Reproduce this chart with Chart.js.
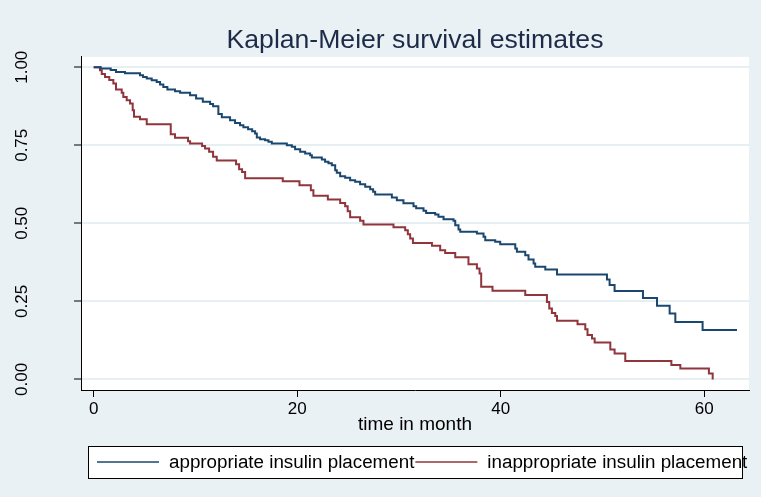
<!DOCTYPE html>
<html><head><meta charset="utf-8">
<script src="https://cdn.jsdelivr.net/npm/chart.js@4/dist/chart.umd.min.js"></script>
<style>html,body{margin:0;padding:0;background:#eaf1f4}</style>
</head><body>
<canvas id="c" width="761" height="497"></canvas>
<script>
const titleText = 'Kaplan-Meier survival estimates';
const xAxisTitle = 'time in month';
const seriesNames = ['appropriate insulin placement', 'inappropriate insulin placement'];
const xTicks = [0, 20, 40, 60];
const yTicks = [0, 0.25, 0.5, 0.75, 1];

const blueTime = [0, 0.69, 1.67, 2.19, 3.08, 4.55, 4.85, 5.21, 5.70, 6.19, 6.52, 6.84, 7.24, 7.99, 8.49, 9.47, 10.06, 10.72, 11.44, 11.73, 12.25, 12.59, 13.40, 13.89, 14.38, 14.71, 15.17, 15.57, 15.86, 16.03, 16.35, 16.84, 17.17, 17.50, 18.98, 19.47, 19.79, 20.29, 20.78, 21.27, 21.44, 22.42, 22.74, 23.07, 23.40, 23.73, 23.89, 24.22, 24.71, 25.20, 25.69, 26.18, 26.68, 27.17, 27.46, 27.66, 29.30, 29.79, 30.44, 31.43, 31.69, 32.41, 32.67, 33.56, 33.88, 34.38, 35.36, 35.53, 35.85, 36.02, 37.66, 38.31, 38.48, 39.46, 39.95, 41.43, 41.59, 42.41, 42.73, 43.23, 43.39, 44.38, 45.53, 50.44, 50.70, 51.19, 53.98, 55.36, 56.60, 57.16, 59.84, 63.22];
const blueSurv = [1, 0.996, 0.991, 0.985, 0.981, 0.974, 0.969, 0.964, 0.958, 0.953, 0.945, 0.937, 0.929, 0.923, 0.918, 0.910, 0.900, 0.889, 0.882, 0.875, 0.850, 0.840, 0.830, 0.821, 0.814, 0.808, 0.801, 0.795, 0.788, 0.775, 0.769, 0.766, 0.761, 0.756, 0.750, 0.745, 0.737, 0.729, 0.724, 0.718, 0.711, 0.704, 0.697, 0.692, 0.686, 0.670, 0.662, 0.651, 0.646, 0.638, 0.633, 0.625, 0.617, 0.609, 0.601, 0.592, 0.583, 0.574, 0.564, 0.555, 0.548, 0.540, 0.533, 0.528, 0.521, 0.513, 0.508, 0.494, 0.480, 0.473, 0.467, 0.457, 0.446, 0.441, 0.433, 0.419, 0.409, 0.398, 0.384, 0.371, 0.361, 0.352, 0.336, 0.320, 0.302, 0.283, 0.261, 0.236, 0.211, 0.184, 0.158, 0.158];

const redTime = [0, 0.62, 0.79, 1.11, 1.53, 1.93, 2.19, 2.75, 2.91, 3.24, 3.57, 3.83, 3.96, 4.55, 5.21, 7.57, 7.99, 9.27, 9.47, 10.65, 10.94, 11.34, 11.73, 12.09, 13.99, 14.29, 14.58, 14.88, 18.58, 20.22, 21.34, 21.59, 23.01, 24.22, 24.71, 24.96, 25.20, 26.18, 26.51, 29.46, 30.61, 30.87, 31.10, 31.37, 33.24, 34.05, 34.54, 35.53, 36.83, 37.66, 37.92, 38.08, 39.19, 42.41, 44.54, 44.77, 45.03, 45.36, 45.53, 47.55, 48.31, 48.53, 48.97, 49.23, 50.77, 51.19, 52.24, 56.77, 57.65, 60.46, 60.83];
const redSurv = [1, 0.990, 0.978, 0.969, 0.959, 0.948, 0.929, 0.918, 0.905, 0.894, 0.884, 0.862, 0.841, 0.833, 0.817, 0.785, 0.774, 0.763, 0.756, 0.748, 0.740, 0.729, 0.713, 0.701, 0.689, 0.673, 0.664, 0.644, 0.635, 0.622, 0.606, 0.588, 0.576, 0.565, 0.555, 0.539, 0.519, 0.508, 0.496, 0.487, 0.478, 0.465, 0.451, 0.437, 0.428, 0.414, 0.405, 0.391, 0.369, 0.355, 0.339, 0.297, 0.284, 0.270, 0.248, 0.227, 0.213, 0.203, 0.188, 0.177, 0.161, 0.142, 0.131, 0.118, 0.096, 0.083, 0.059, 0.046, 0.035, 0.019, 0];

const FONT = "'Liberation Sans', Arial, sans-serif";
const BG = '#eaf1f4';
const BLUE = '#1a476f';
const RED = '#90353b';

const toPts = (t, s) => t.map((v, i) => ({x: v, y: s[i]}));

const bgPlugin = {
  id: 'bg',
  beforeDraw(chart) {
    const c = chart.ctx, a = chart.chartArea;
    c.save();
    c.fillStyle = BG;
    c.fillRect(0, 0, chart.width, chart.height);
    c.fillStyle = '#ffffff';
    c.fillRect(a.left, a.top, a.right - a.left, a.bottom - a.top);
    c.restore();
  }
};

const legendPlugin = {
  id: 'boxLegend',
  afterDraw(chart) {
    const c = chart.ctx;
    c.save();
    const bx = 88, by = 446, bw = 654, bh = 32;
    c.fillStyle = '#ffffff';
    c.fillRect(bx, by, bw, bh);
    c.strokeStyle = '#000';
    c.lineWidth = 1;
    c.strokeRect(bx + 0.5, by + 0.5, bw, bh);
    c.font = '18.8px ' + FONT;
    c.textBaseline = 'middle';
    c.fillStyle = '#000';
    const ly = by + bh / 2;
    let x = 97;
    chart.data.datasets.forEach((ds, i) => {
      c.strokeStyle = ds.borderColor;
      c.lineWidth = 1.5;
      c.beginPath();
      c.moveTo(x, ly);
      c.lineTo(x + 62, ly);
      c.stroke();
      x += 72;
      c.fillText(ds.label, x, ly + 1);
      x += c.measureText(ds.label).width + 1;
    });
    c.restore();
  }
};

new Chart(document.getElementById('c'), {
  type: 'line',
  data: {
    datasets: [
      {label: seriesNames[0], data: toPts(blueTime, blueSurv), borderColor: BLUE, borderWidth: 2, pointRadius: 0, stepped: true, fill: false},
      {label: seriesNames[1], data: toPts(redTime, redSurv), borderColor: RED, borderWidth: 2, pointRadius: 0, stepped: true, fill: false}
    ]
  },
  options: {
    responsive: false,
    animation: false,
    layout: {padding: {top: 0, left: 0, right: 12, bottom: 57}},
    plugins: {
      legend: {display: false},
      tooltip: {enabled: false},
      title: {
        display: true, text: titleText, fullSize: false,
        color: '#1c2b47', font: {family: FONT, size: 26.6, weight: 'normal'},
        padding: {top: 25, bottom: 0}
      }
    },
    scales: {
      x: {
        type: 'linear', min: -1.25, max: 64.4,
        afterBuildTicks(s) { s.ticks = xTicks.map(v => ({value: v})); },
        afterFit(s) { s.height = 50; },
        grid: {display: true, drawOnChartArea: false, drawTicks: true, tickLength: 7, tickColor: '#000', tickWidth: 1},
        border: {display: true, color: '#000', width: 1},
        ticks: {color: '#000', font: {family: FONT, size: 17}, padding: 2, maxRotation: 0, autoSkip: false},
        title: {display: true, text: xAxisTitle, color: '#000', font: {family: FONT, size: 19}, padding: {top: 0, bottom: 4}}
      },
      y: {
        type: 'linear', min: -0.034, max: 1.033,
        afterBuildTicks(s) { s.ticks = yTicks.map(v => ({value: v})); },
        afterFit(s) { s.width = 81; },
        grid: {display: true, drawOnChartArea: true, color: '#e6eff2', lineWidth: 2, drawTicks: true, tickLength: 7, tickColor: '#000', tickWidth: 1},
        border: {display: true, color: '#000', width: 1},
        ticks: {color: '#000', font: {family: FONT, size: 17}, padding: 35, minRotation: 90, maxRotation: 90, crossAlign: 'center', autoSkip: false,
          callback: v => v.toFixed(2)}
      }
    }
  },
  plugins: [bgPlugin, legendPlugin]
});
</script>
</body></html>
